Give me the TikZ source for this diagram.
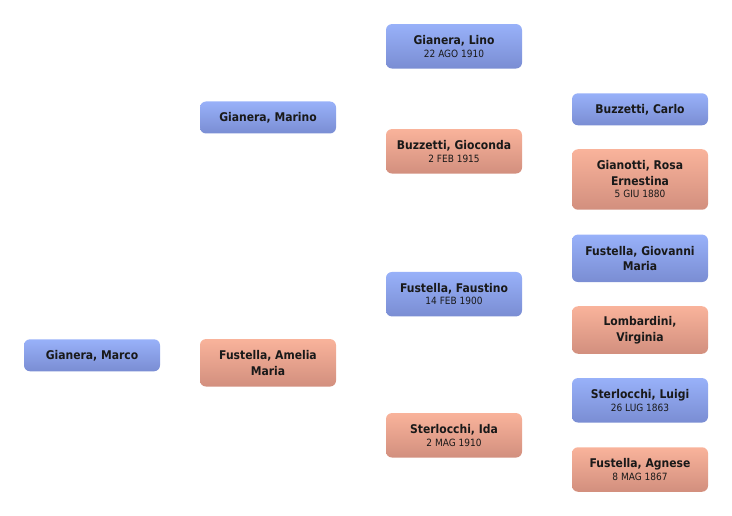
\documentclass[tikz,border=0pt]{standalone}
\usepackage{fontspec}
\setmainfont{DejaVu Sans Condensed}
\usepackage{tikz}
\definecolor{maletop}{HTML}{98B1F9}
\definecolor{malebot}{HTML}{7A8DD3}
\definecolor{femtop}{HTML}{F9B39B}
\definecolor{fembot}{HTML}{D28F7E}
\newcommand{\born}[1]{\\[-3pt]{\mdseries\fontsize{10}{12}\selectfont #1}}

\begin{document}
\begin{tikzpicture}[x=1pt,y=-1pt,
  person/.style={rounded corners=6pt, minimum width=136pt, minimum height=32pt, inner sep=2pt, align=center, font=\fontsize{12}{15.5}\selectfont\bfseries, text=black!90},
  male/.style={person, top color=maletop, bottom color=malebot},
  female/.style={person, top color=femtop, bottom color=fembot}]
\useasboundingbox (0,0) rectangle (732,516);
\node [male] (marco) at (92,355.3) {Gianera, Marco};
\node [male] (marino) at (268,117.5) {Gianera, Marino};
\node [female, minimum height=47.5pt] (amelia) at (268,362.8) {Fustella, Amelia\\Maria};
\node [male, minimum height=44.5pt] (lino) at (454,46.3) {Gianera, Lino\born{22 AGO 1910}};
\node [female, minimum height=44.5pt] (gioconda) at (454,151.3) {Buzzetti, Gioconda\born{2 FEB 1915}};
\node [male, minimum height=44.5pt] (faustino) at (454,294.2) {Fustella, Faustino\born{14 FEB 1900}};
\node [female, minimum height=44.5pt] (ida) at (454,435.3) {Sterlocchi, Ida\born{2 MAG 1910}};
\node [male] (carlo) at (640,109.3) {Buzzetti, Carlo};
\node [female, minimum height=60.5pt] (rosa) at (640,179.5) {Gianotti, Rosa\\Ernestina\born{5 GIU 1880}};
\node [male, minimum height=47.5pt] (giovanni) at (640,258.3) {Fustella, Giovanni\\Maria};
\node [female, minimum height=47.5pt] (virginia) at (640,330) {Lombardini,\\Virginia};
\node [male, minimum height=44.5pt] (luigi) at (640,400.3) {Sterlocchi, Luigi\born{26 LUG 1863}};
\node [female, minimum height=44.5pt] (agnese) at (640,469.5) {Fustella, Agnese\born{8 MAG 1867}};
\end{tikzpicture}
\end{document}
